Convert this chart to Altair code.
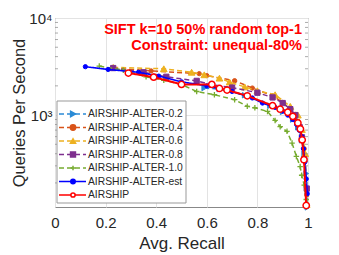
import altair as alt
import pandas as pd

series_names = ["AIRSHIP-ALTER-0.2", "AIRSHIP-ALTER-0.4", "AIRSHIP-ALTER-0.6",
                "AIRSHIP-ALTER-0.8", "AIRSHIP-ALTER-1.0", "AIRSHIP-ALTER-est", "AIRSHIP"]

recall_02 = [0.59, 0.65, 0.75, 0.85, 0.90, 0.94, 0.96, 0.975, 0.985, 0.993, 0.998]
qps_02 = [1900, 1850, 1600, 1250, 1080, 900, 750, 550, 400, 250, 112]

recall_04 = [0.23, 0.38, 0.57, 0.60, 0.71, 0.78, 0.86, 0.90, 0.93, 0.95, 0.97, 0.985, 0.995]
qps_04 = [3050, 2850, 2670, 2550, 2260, 1900, 1580, 1350, 1150, 1000, 750, 450, 150]

recall_06 = [0.23, 0.43, 0.54, 0.59, 0.65, 0.69, 0.75, 0.80, 0.87, 0.93, 0.96, 0.976, 0.989, 0.995]
qps_06 = [3100, 3000, 2760, 2600, 2400, 2190, 1950, 1780, 1620, 1230, 1000, 710, 400, 120]

recall_08 = [0.23, 0.35, 0.44, 0.56, 0.62, 0.70, 0.80, 0.86, 0.90, 0.93, 0.95, 0.967, 0.976, 0.985, 0.995]
qps_08 = [3050, 2760, 2480, 2250, 2050, 1920, 1700, 1520, 1330, 1150, 1000, 750, 590, 350, 175]

recall_10 = [0.175, 0.27, 0.36, 0.43, 0.50, 0.56, 0.63, 0.71, 0.76, 0.79, 0.84, 0.87, 0.89,
             0.917, 0.937, 0.954, 0.969, 0.975, 0.985, 0.993]
qps_10 = [3200, 2900, 2480, 2280, 2070, 1750, 1620, 1440, 1230, 1190, 1090, 880, 760,
          680, 515, 375, 295, 240, 190, 135]

recall_est = [0.12, 0.21, 0.33, 0.41, 0.50, 0.60, 0.70, 0.78, 0.82, 0.87, 0.90, 0.92, 0.94,
              0.955, 0.965, 0.975, 0.982, 0.988, 0.993, 0.997]
qps_est = [3150, 2950, 2760, 2520, 2200, 2000, 1750, 1500, 1330, 1200, 1100, 1000, 900,
           800, 700, 600, 450, 330, 220, 155]

recall_air = [0.29, 0.39, 0.50, 0.62, 0.65, 0.68, 0.76, 0.86, 0.89, 0.92, 0.94, 0.96, 0.97,
              0.977, 0.984, 0.993]
qps_air = [2710, 2460, 2070, 2070, 1880, 1810, 1580, 1250, 1150, 1070, 970, 830, 720,
           555, 347, 117]

all_recall = [recall_02, recall_04, recall_06, recall_08, recall_10, recall_est, recall_air]
all_qps = [qps_02, qps_04, qps_06, qps_08, qps_10, qps_est, qps_air]

x_ticks = [0, 0.2, 0.4, 0.6, 0.8, 1.0]
y_ticks = [1000, 10000]
y_minor = [200, 300, 400, 500, 600, 700, 800, 900, 2000, 3000, 4000, 5000, 6000, 7000, 8000, 9000]

title_lines = ["SIFT k=10 50% random top-1", "Constraint: unequal-80%"]

plus_path = "M-1,0L1,0M0,-1L0,1"
colors = ["#2B8BD6", "#D95319", "#EDB120", "#7E2F8E", "#77AC30", "#0000FF", "#FF0000"]
shapes = ["triangle-right", "circle", "triangle-up", "square", plus_path, "circle", "circle"]
fills = ["#2B8BD6", "#D95319", "#EDB120", "#7E2F8E", "transparent", "#0000FF", "white"]
sizes = [30, 18, 45, 28, 30, 18, 40]
dashes = [[5, 3], [5, 3], [5, 3], [5, 3], [5, 3], [1, 0], [1, 0]]
widths = [1.5, 1.5, 1.5, 1.5, 1.5, 1.6, 2]
pt_stroke = [1, 1, 1, 1, 1.3, 1, 1.5]

FONT = "Liberation Sans"
W, H = 253, 189

x_enc = alt.X("recall:Q", scale=alt.Scale(domain=[0, 1], nice=False),
              axis=alt.Axis(values=x_ticks, format="~g", title="Avg. Recall",
                            grid=True, ticks=False, domain=False, labelPadding=8,
                            titlePadding=5, labelFontSize=15, titleFontSize=17,
                            labelFlush=False))
y_enc = alt.Y("qps:Q", scale=alt.Scale(type="log", domain=[113, 10000], nice=False),
              axis=alt.Axis(values=y_ticks,
                            labelExpr="datum.value == 1000 ? '10³' : '10⁴'",
                            title="Queries Per Second", grid=True, ticks=False,
                            domain=False, labelPadding=3, titlePadding=1,
                            labelFontSize=15, titleFontSize=16.5))

main_layers = []
for i, name in enumerate(series_names):
    df = pd.DataFrame({"recall": all_recall[i], "qps": all_qps[i]})
    main_layers.append(
        alt.Chart(df).mark_line(color=colors[i], strokeDash=dashes[i],
                                strokeWidth=widths[i]).encode(x=x_enc, y=y_enc))
    main_layers.append(
        alt.Chart(df).mark_point(shape=shapes[i], fill=fills[i], stroke=colors[i],
                                 size=sizes[i], strokeWidth=pt_stroke[i], opacity=1,
                                 fillOpacity=1).encode(x=x_enc, y=y_enc))

minor_df = pd.DataFrame({"qps": y_minor})
for xv in [1.5, W - 1.5]:
    main_layers.append(
        alt.Chart(minor_df).mark_tick(orient="horizontal", size=3, thickness=1,
                                      color="#888").encode(x=alt.value(xv), y=y_enc))

main = alt.layer(*main_layers)

leg_df = pd.DataFrame({"name": series_names})
row_y = alt.Y("name:N", scale=alt.Scale(type="point", domain=series_names,
                                        range=[96, 177], padding=0), axis=None)
name_scale = dict(domain=series_names)

box = alt.Chart(pd.DataFrame({"a": [0]})).mark_rect(
    fill="white", stroke="#999", strokeWidth=1).encode(
    x=alt.value(2), x2=alt.value(131), y=alt.value(83), y2=alt.value(185))

leg_lines = alt.Chart(leg_df).mark_rule().encode(
    x=alt.value(4), x2=alt.value(31), y=row_y,
    color=alt.Color("name:N", scale=alt.Scale(range=colors, **name_scale), legend=None),
    strokeDash=alt.StrokeDash("name:N", scale=alt.Scale(range=dashes, **name_scale), legend=None),
    strokeWidth=alt.StrokeWidth("name:N", scale=alt.Scale(range=widths, **name_scale), legend=None))

leg_pts = alt.Chart(leg_df).mark_point(opacity=1, fillOpacity=1).encode(
    x=alt.value(18), y=row_y,
    shape=alt.Shape("name:N", scale=alt.Scale(range=shapes, **name_scale), legend=None),
    fill=alt.Fill("name:N", scale=alt.Scale(range=fills, **name_scale), legend=None),
    stroke=alt.Stroke("name:N", scale=alt.Scale(range=colors, **name_scale), legend=None),
    size=alt.Size("name:N", scale=alt.Scale(range=sizes, **name_scale), legend=None),
    strokeWidth=alt.StrokeWidth("name:N", scale=alt.Scale(range=pt_stroke, **name_scale), legend=None))

leg_text = alt.Chart(leg_df).mark_text(align="left", baseline="middle", fontSize=10.3,
                                       font=FONT, color="#262626").encode(
    x=alt.value(33), y=row_y, text="name:N")

legend = alt.layer(box, leg_lines, leg_pts, leg_text)

title_df = pd.DataFrame({"t": title_lines})
title_y = alt.Y("t:N", scale=alt.Scale(type="point", domain=title_lines, range=[12, 28],
                                       padding=0), axis=None)
title = alt.Chart(title_df).mark_text(align="right", baseline="middle", fontSize=14.5,
                                      fontWeight="bold", font=FONT, color="#FF0000").encode(
    x=alt.value(247), y=title_y, text="t:N")

chart = alt.layer(main, legend, title).resolve_scale(
    x="independent", y="independent", color="independent", strokeDash="independent",
    strokeWidth="independent", shape="independent", fill="independent",
    stroke="independent", size="independent"
).properties(
    width=W, height=H, autosize="none",
    padding={"left": 47, "top": 10, "right": 20, "bottom": 45}
).configure_view(stroke="#888", strokeWidth=1).configure_axis(
    gridColor="#E3E3E3", gridWidth=1, labelFont=FONT, titleFont=FONT,
    labelColor="#262626", titleColor="#262626", titleFontWeight="normal"
)

chart.save("out.html", embed_options={"renderer": "svg", "actions": False})
